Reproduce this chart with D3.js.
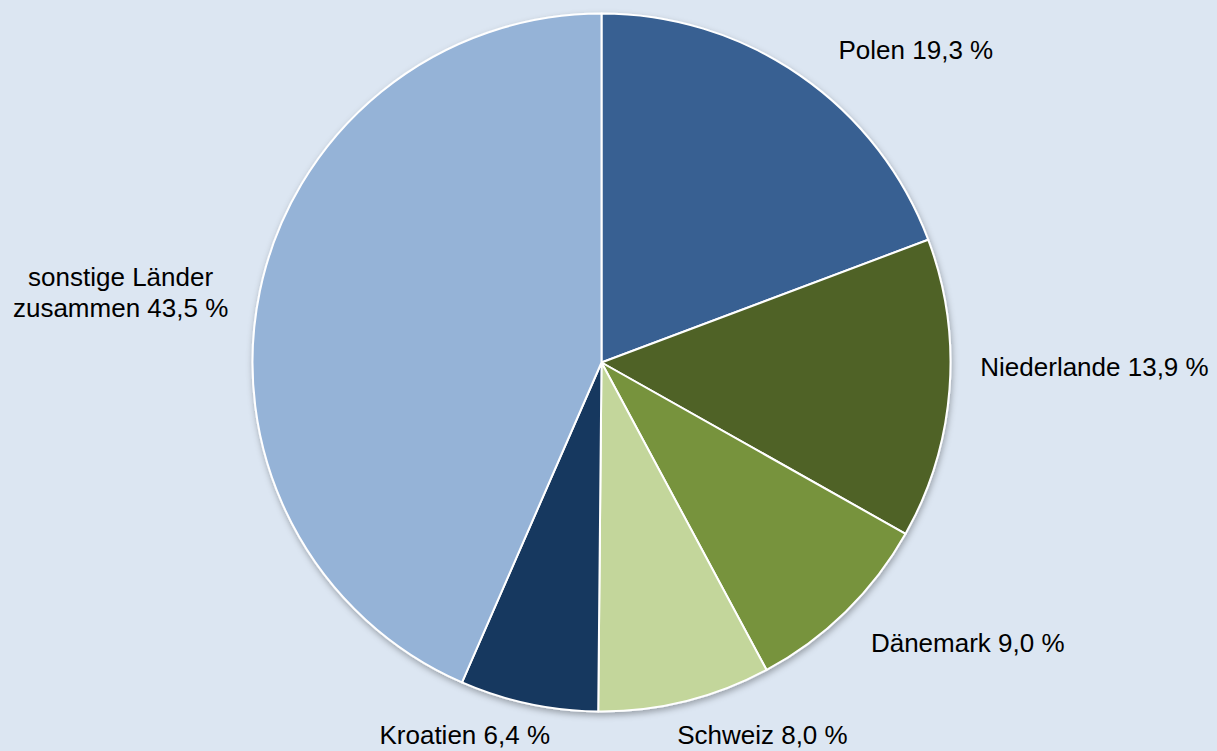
<!DOCTYPE html>
<html>
<head>
<meta charset="utf-8">
<script src="https://cdn.jsdelivr.net/npm/d3@7"></script>
<style>
  html, body { margin: 0; padding: 0; background: #dce6f2; }
  svg { display: block; }
  text { font-family: "Liberation Sans", Arial, sans-serif; font-size: 26px; fill: #000; }
</style>
</head>
<body>
<div id="chart"></div>
<script>
const width = 1217;
const height = 751;

// Data (shares in %)
const countries = ["Polen", "Niederlande", "Dänemark", "Schweiz", "Kroatien", "sonstige Länder zusammen"];
const shares = [19.3, 13.9, 9.0, 8.0, 6.4, 43.5];
const labelLines = [
    ["Polen 19,3 %"],
    ["Niederlande 13,9 %"],
    ["Dänemark 9,0 %"],
    ["Schweiz 8,0 %"],
    ["Kroatien 6,4 %"],
    ["sonstige Länder", "zusammen 43,5 %"]
];
const sliceColors = ["#376092", "#4f6228", "#77933c", "#c3d69b", "#17375e", "#95b3d7"];

// Label layout: centre of each label, as angle (deg, clockwise from top) and distance from pie centre
const labelAngle = [45.2, 90.5, 127.4, 156.65, 200.15, 278.3];
const labelDist = [443, 493, 461, 406, 397, 486];

const cx = 601.5;
const cy = 362.5;
const radius = 349;

const svg = d3
    .select("#chart")
    .append("svg")
    .attr("width", width)
    .attr("height", height);

svg.append("rect")
    .attr("width", width)
    .attr("height", height)
    .attr("fill", "#dce6f2");

const defs = svg.append("defs");
const shadow = defs.append("filter")
    .attr("id", "shadow")
    .attr("x", "-10%").attr("y", "-10%")
    .attr("width", "120%").attr("height", "120%");
shadow.append("feDropShadow")
    .attr("dx", 1)
    .attr("dy", 3)
    .attr("stdDeviation", 3)
    .attr("flood-color", "#000")
    .attr("flood-opacity", 0.3);

const data = countries.map((c, i) => ({ country: c, value: shares[i], idx: i }));

const pie = d3.pie()
    .sort(null)
    .value((d) => d.value);

const arc = d3.arc()
    .innerRadius(0)
    .outerRadius(radius);

const g = svg.append("g")
    .attr("transform", `translate(${cx},${cy})`);

g.append("g")
    .attr("filter", "url(#shadow)")
    .selectAll("path")
    .data(pie(data))
    .join("path")
    .attr("d", arc)
    .attr("fill", (d) => sliceColors[d.data.idx])
    .attr("stroke", "#fff")
    .attr("stroke-width", 2)
    .attr("stroke-linejoin", "round");

// Labels
const lineH = 31;
const labels = g.append("g")
    .selectAll("text")
    .data(data)
    .join("text")
    .attr("text-anchor", "middle")
    .attr("transform", (d) => {
        const a = (labelAngle[d.idx] * Math.PI) / 180;
        const r = labelDist[d.idx];
        return `translate(${r * Math.sin(a)},${-r * Math.cos(a)})`;
    });

labels.each(function (d) {
    const lines = labelLines[d.idx];
    const t = d3.select(this);
    const y0 = -((lines.length - 1) * lineH) / 2 + 9;
    lines.forEach((l, j) => {
        t.append("tspan")
            .attr("x", 0)
            .attr("y", y0 + j * lineH)
            .text(l);
    });
});
</script>
</body>
</html>
